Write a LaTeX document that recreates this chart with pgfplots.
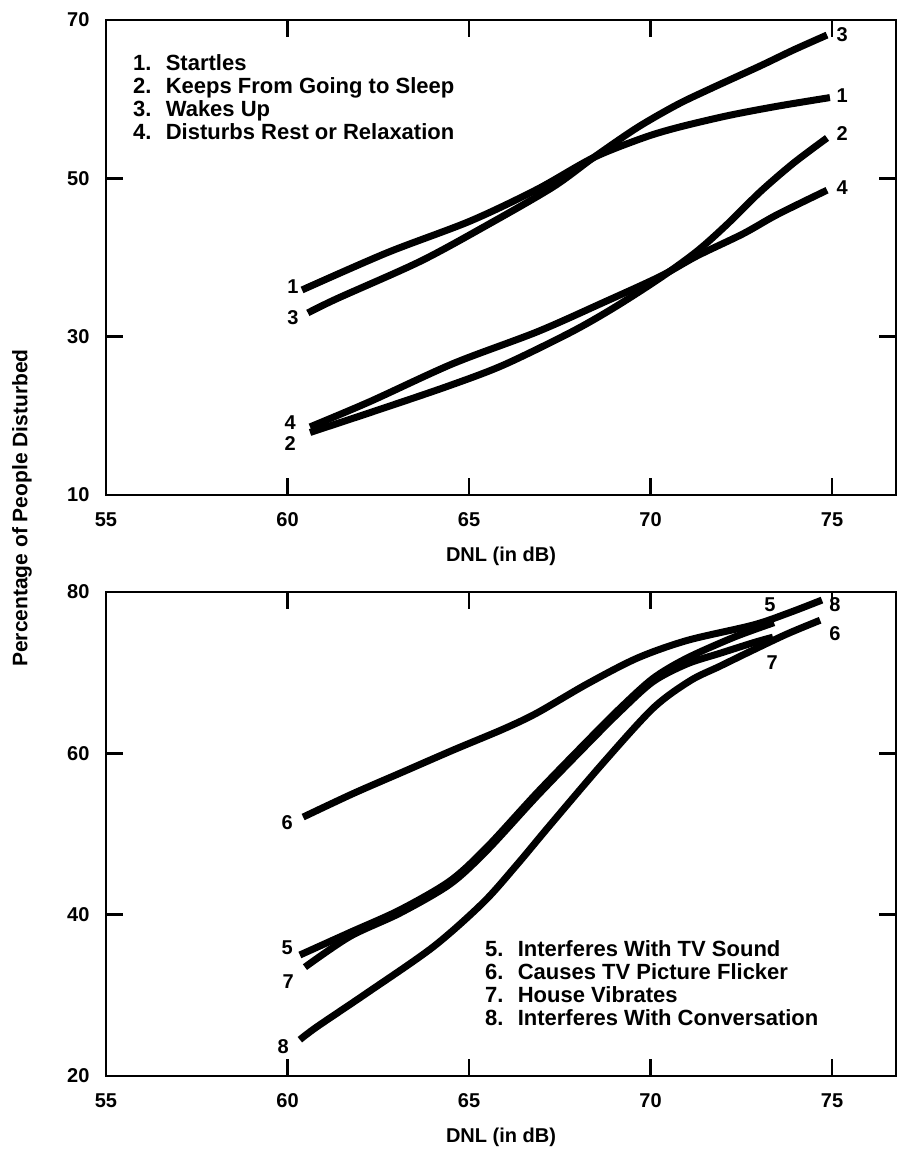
\documentclass[border=0pt]{standalone}
\usepackage{fontspec}
\setmainfont{Liberation Sans}
\usepackage{pgfplots}
\pgfplotsset{compat=1.18}

\pgfplotsset{
  dnl/.style={
    scale only axis, width=790pt, anchor=north west,
    xmin=55, xmax=76.76,
    xtick={55,60,65,70,75},
    tick align=inside,
    major tick length=17pt,
    axis line style={line width=2.6pt},
    tick style={black, line width=2.6pt},
    tick label style={font=\fontsize{20}{20}\selectfont\bfseries},
    /pgf/number format/assume math mode=true,
    xticklabel style={yshift=-14pt},
    yticklabel style={xshift=-13pt},
    xlabel={DNL (in dB)},
    xlabel style={font=\fontsize{20}{20}\selectfont\bfseries,
      at={(axis description cs:0.5,0)}, anchor=center, yshift=-61pt},
    every axis plot post/.append style={black, solid, line width=7pt, smooth, mark=none},
    clip=false,
  },
}
\tikzset{
  lbl/.style={font=\fontsize{20}{20}\selectfont\bfseries, inner sep=0pt},
  key/.style={anchor=north west, align=left, inner sep=0pt,
    font=\fontsize{22}{23}\selectfont\bfseries},
}

\begin{document}
\begin{tikzpicture}
\useasboundingbox (0,0) rectangle (911pt,-1149pt);

% top panel: curves 1-4
\begin{axis}[dnl, at={(106pt,-20pt)}, height=475pt,
  ymin=10, ymax=70, ytick={10,30,50,70}]
% 1 startles
\addplot coordinates {(60.40,35.9) (62.74,40.6) (65.03,44.6) (66.87,48.6) (68.42,52.6)
  (69.79,55.1) (70.73,56.4) (72.11,57.9) (73.48,59.1) (74.94,60.2)};
% 2 keeps from going to sleep
\addplot coordinates {(60.62,17.9) (62.27,20.4) (64.39,23.7) (65.94,26.4) (67.78,30.5)
  (68.97,33.6) (70.26,37.4) (71.28,40.8) (72.11,44.2) (73.02,48.3) (73.93,51.9) (74.86,55.1)};
% 3 wakes up
\addplot coordinates {(60.56,33.0) (61.36,34.8) (63.65,39.5) (65.50,44.1) (67.31,48.9)
  (68.42,52.6) (69.63,56.4) (70.73,59.3) (71.64,61.3) (73.02,64.2) (73.93,66.2) (74.86,68.1)};
% 4 disturbs rest
\addplot coordinates {(60.62,18.6) (62.27,21.8) (64.56,26.6) (66.87,30.6) (68.69,34.3)
  (70.26,37.6) (71.28,40.2) (72.55,43.0) (73.48,45.4) (74.86,48.5)};
\node[lbl] at (axis cs:60.15,36.3) {1};
\node[lbl] at (axis cs:60.15,32.4) {3};
\node[lbl] at (axis cs:60.07,19.2) {4};
\node[lbl] at (axis cs:60.07,16.5) {2};
\node[lbl] at (axis cs:75.28,68.1) {3};
\node[lbl] at (axis cs:75.28,60.5) {1};
\node[lbl] at (axis cs:75.28,55.7) {2};
\node[lbl] at (axis cs:75.28,48.8) {4};
\node[key, xshift=27pt, yshift=-34pt] at (rel axis cs:0,1)
  {1.~ Startles\\2.~ Keeps From Going to Sleep\\3.~ Wakes Up\\4.~ Disturbs Rest or Relaxation};
\end{axis}

% bottom panel: curves 5-8
\begin{axis}[dnl, at={(106pt,-592pt)}, height=484pt,
  ymin=20, ymax=80, ytick={20,40,60,80}]
% 5 interferes with TV sound
\addplot coordinates {(60.34,35.0) (61.72,37.8) (63.10,40.6) (64.48,44.2) (65.50,48.4)
  (66.87,55.1) (68.25,61.5) (69.16,65.6) (70.07,69.3) (71.00,71.8) (72.30,74.4) (73.40,76.2)};
% 6 TV picture flicker
\addplot coordinates {(60.43,52.1) (61.80,55.0) (63.18,57.7) (64.56,60.4) (65.94,63.0)
  (66.87,65.0) (68.25,68.6) (69.63,71.8) (71.01,74.0) (72.82,75.9) (73.80,77.4) (74.72,79.0)};
% 7 house vibrates
\addplot coordinates {(60.48,33.5) (61.72,37.3) (63.10,40.2) (64.48,43.8) (65.50,48.0)
  (66.87,54.7) (68.25,61.1) (69.16,65.2) (70.07,68.9) (71.01,71.1) (71.91,72.4) (72.82,73.7) (73.37,74.4)};
% 8 interferes with conversation
\addplot coordinates {(60.34,24.5) (60.81,26.1) (62.19,30.3) (64.01,36.0) (65.39,41.5)
  (66.32,46.2) (67.23,51.1) (68.69,58.8) (70.07,65.6) (71.09,69.0) (71.91,70.8) (72.82,72.8)
  (73.76,74.8) (74.67,76.5)};
\node[lbl] at (axis cs:59.99,51.4) {6};
\node[lbl] at (axis cs:59.99,35.9) {5};
\node[lbl] at (axis cs:60.02,31.7) {7};
\node[lbl] at (axis cs:59.88,23.6) {8};
\node[lbl] at (axis cs:73.29,78.4) {5};
\node[lbl] at (axis cs:75.08,78.4) {8};
\node[lbl] at (axis cs:75.08,74.9) {6};
\node[lbl] at (axis cs:73.35,71.3) {7};
\node[key, xshift=379pt, yshift=-348pt] at (rel axis cs:0,1)
  {5.~ Interferes With TV Sound\\6.~ Causes TV Picture Flicker\\7.~ House Vibrates\\8.~ Interferes With Conversation};
\end{axis}

\node[rotate=90, font=\fontsize{21}{21}\selectfont\bfseries] at (22pt,-508pt)
  {Percentage of People Disturbed};
\end{tikzpicture}
\end{document}
